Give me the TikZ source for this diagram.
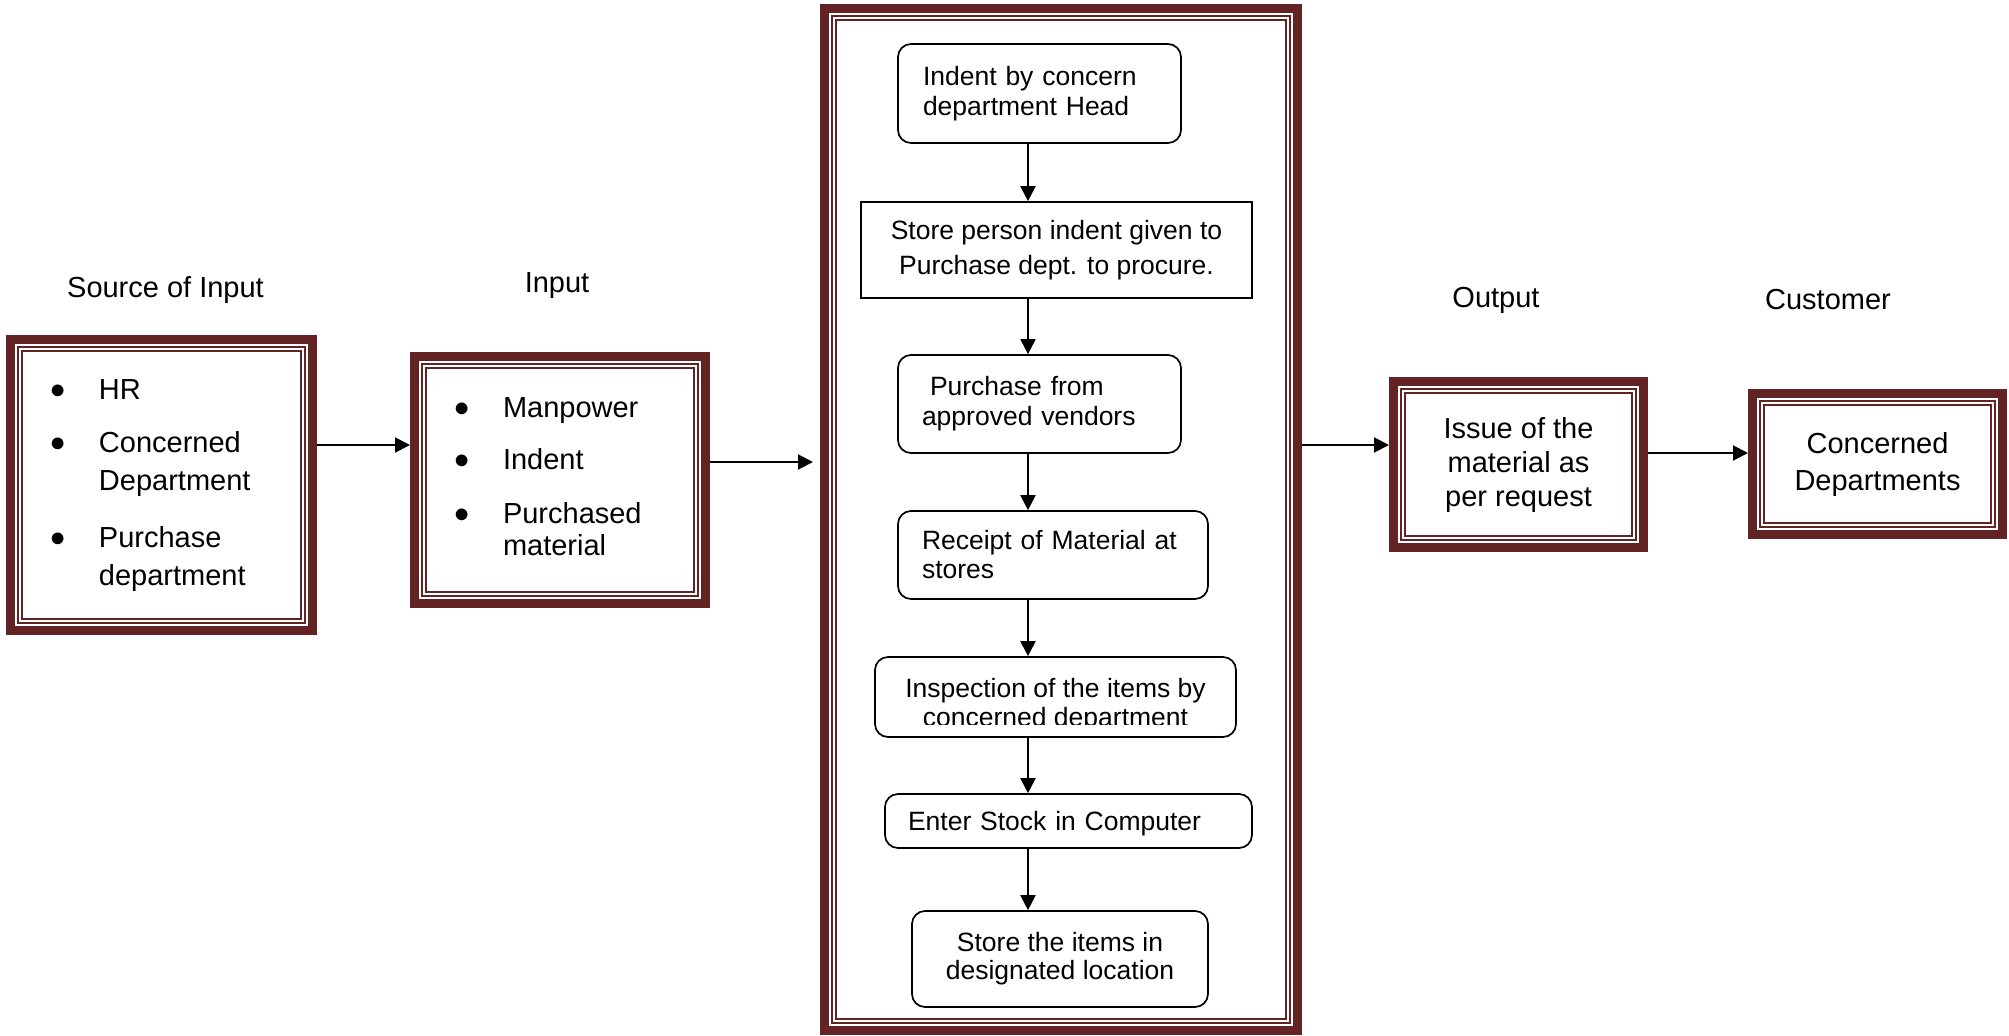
\documentclass[tikz,border=0pt]{standalone}
\usepackage{fontspec}
\setmainfont{Liberation Sans}
\usepackage{xcolor}
\usepackage{tikz}
\usetikzlibrary{arrows.meta}

\definecolor{framered}{RGB}{99,35,36}
\newcommand{\itembullet}{\raisebox{0.5pt}{\scalebox{1.06}{$\bullet$}}}

\begin{document}
\begin{tikzpicture}[x=0.5pt,y=-0.5pt,
  bigbox/.style={draw=framered,line width=4.5pt,inner sep=0pt,font=\fontsize{14.5}{19}\selectfont},
  innerframe/.style={draw=framered,line width=1pt,double=white,double distance=0.75pt},
  stepbox/.style={draw,line width=0.85pt,inner sep=0pt,font=\fontsize{13.25}{15}\selectfont},
  roundstep/.style={stepbox,rounded corners=6.5pt},
  heading/.style={anchor=base,font=\fontsize{14.5}{17}\selectfont},
  arr/.style={line width=1pt,-{Triangle[length=7.5pt,width=7.5pt]}}]
  \useasboundingbox (0,0) rectangle (2009,1035);

  \node[heading] (srchead) at (165.5,297) {Source of Input};
  \node[heading] (inphead) at (557,292) {Input};
  \node[heading] (outhead) at (1496,307) {Output};
  \node[heading] (cushead) at (1828,309) {Customer};

  \node[bigbox,text width=151pt,minimum height=145.5pt,align=left] (src) at (161.5,485)
    {\hspace*{19.8pt}\begin{tabular}{@{}p{24.45pt}@{}l@{}}
      \itembullet & HR\\[7.5pt]
      \itembullet & Concerned\\ & Department\\[9.5pt]
      \itembullet & Purchase\\ & department
    \end{tabular}};
  \node[bigbox,text width=145.5pt,minimum height=123.5pt,align=left,
        font=\fontsize{14.5}{16}\selectfont] (inp) at (560,480)
    {\hspace*{19.75pt}\begin{tabular}{@{}p{24.5pt}@{}l@{}}
      \itembullet & Manpower\\[10pt]
      \itembullet & Indent\\[11pt]
      \itembullet & Purchased\\ & material
    \end{tabular}};
  \node[bigbox,minimum width=236.5pt,minimum height=511pt] (mid) at (1061,519.5) {};
  \node[bigbox,minimum width=125pt,minimum height=83pt,align=center,
        font=\fontsize{14.5}{17}\selectfont] (out) at (1518.5,464.5)
    {Issue of the\\material as\\per request};
  \node[bigbox,minimum width=125pt,minimum height=70.5pt,align=center,
        font=\fontsize{14.5}{18.5}\selectfont] (cus) at (1877.5,464)
    {Concerned\\Departments};

  \foreach \n in {src,inp,mid,out,cus}
    \draw[innerframe] ([shift={(6.9pt,-6.9pt)}]\n.north west) rectangle ([shift={(-6.9pt,6.9pt)}]\n.south east);

  \node[roundstep,text width=116.5pt,inner xsep=12.5pt,minimum height=49.5pt,align=left] (indent) at (1039.5,93.5)
    {Indent by concern\\department Head};
  \node[stepbox,minimum width=195.5pt,minimum height=48pt,align=center,
        font=\fontsize{13.25}{17.5}\selectfont] (procure) at (1056.5,250)
    {Store person indent given to\\Purchase dept. to procure.};
  \node[roundstep,text width=117.5pt,inner xsep=12pt,minimum height=49pt,align=left] (vendor) at (1039.5,404)
    {\hspace*{4pt}Purchase from\\approved vendors};
  \node[roundstep,text width=131pt,inner xsep=12pt,minimum height=44pt,align=left,
        font=\fontsize{13.25}{14.5}\selectfont] (receipt) at (1053,555)
    {Receipt of Material at\\stores};
  \node[roundstep,minimum width=180.5pt,minimum height=40pt] (inspect) at (1055.5,697) {};
  \begin{scope}
    \clip (inspect.north west) rectangle ([yshift=6.6pt]inspect.south east);
    \node[align=center,inner sep=0pt,font=\fontsize{13.25}{14.5}\selectfont] (inspecttext)
      at ([yshift=-3.85pt]inspect.center) {Inspection of the items by\\concerned department};
  \end{scope}
  \node[roundstep,text width=160.5pt,inner xsep=11.5pt,minimum height=27pt,text height=12.4pt,align=left] (stock) at (1068.5,821)
    {Enter Stock in Computer};
  \node[roundstep,minimum width=148pt,minimum height=48pt,align=center,
        font=\fontsize{13.25}{14}\selectfont] (store) at (1060,959)
    {Store the items in\\designated location};

  \coordinate (ax) at (1028,0);
  \draw[arr] (indent.south -| ax) -- (procure.north -| ax);
  \draw[arr] (procure.south -| ax) -- (vendor.north -| ax);
  \draw[arr] (vendor.south -| ax) -- (receipt.north -| ax);
  \draw[arr] (receipt.south -| ax) -- (inspect.north -| ax);
  \draw[arr] (inspect.south -| ax) -- (stock.north -| ax);
  \draw[arr] (stock.south -| ax) -- (store.north -| ax);

  \coordinate (a1) at ([yshift=20pt]src.east);
  \coordinate (a2) at ([yshift=9pt]inp.east);
  \coordinate (a3) at ([yshift=9.75pt]out.west);
  \coordinate (a4) at ([yshift=5.75pt]out.east);
  \draw[arr] (a1) -- (a1 -| inp.west);
  \draw[arr,shorten >=3.5pt] (a2) -- (a2 -| mid.west);
  \draw[arr] (mid.east |- a3) -- (a3);
  \draw[arr] (a4) -- (a4 -| cus.west);
\end{tikzpicture}
\end{document}
